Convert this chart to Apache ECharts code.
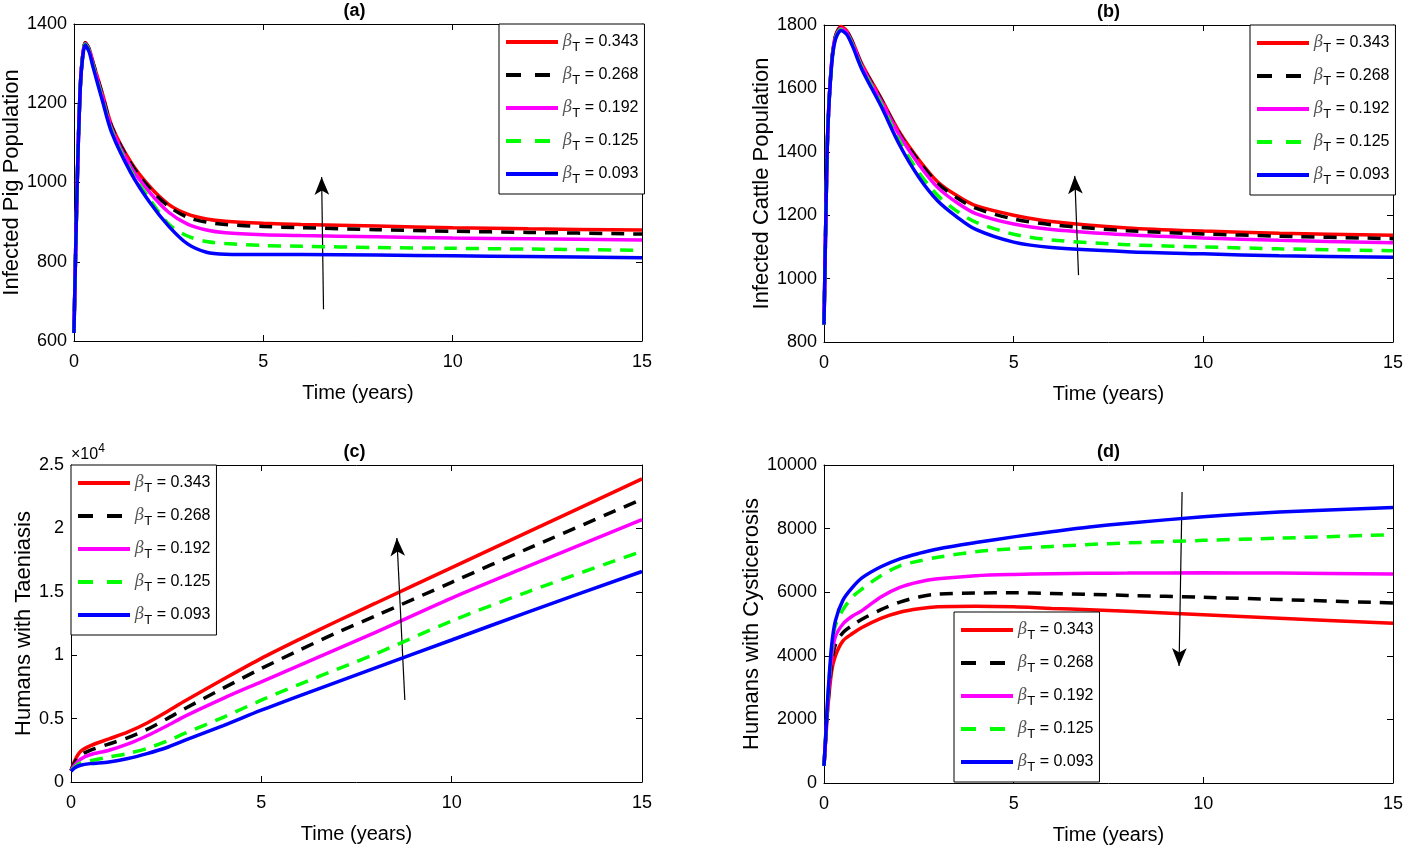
<!DOCTYPE html>
<html>
<head>
<meta charset="utf-8">
<script src="https://cdn.jsdelivr.net/npm/echarts@6/dist/echarts.min.js"></script>
<style>
html,body{margin:0;padding:0;background:#fff;}
#chart{width:1406px;height:847px;}
</style>
</head>
<body>
<div id="chart"></div>
<script>
// ---------------- DATA ----------------
const betaValues = ['0.343', '0.268', '0.192', '0.125', '0.093'];
const seriesColors = ['#ff0000', '#000000', '#ff00ff', '#00ff00', '#0000ff'];
const seriesDashed = [false, true, false, true, false];

// (a) Infected Pig Population
const timesA = [0, 0.05, 0.1, 0.15, 0.2, 0.3, 0.4, 0.5, 0.75, 1, 1.5, 2, 2.5, 3, 3.5, 4, 5, 6, 8, 10, 12, 15];
const pig_0343 = [620, 850, 1050, 1200, 1290, 1353, 1338, 1305, 1225, 1143, 1052, 990, 945, 920, 908, 902, 897, 894, 890, 886, 883, 880];
const pig_0268 = [620, 850, 1050, 1200, 1290, 1352, 1337, 1303, 1222, 1140, 1048, 985, 940, 912, 900, 894, 889, 886, 881, 877, 874, 870];
const pig_0192 = [620, 850, 1050, 1200, 1289, 1351, 1335, 1300, 1217, 1135, 1040, 975, 925, 895, 880, 873, 868, 866, 863, 860, 858, 855];
const pig_0125 = [620, 850, 1050, 1200, 1288, 1349, 1333, 1297, 1212, 1130, 1030, 958, 895, 865, 851, 846, 841, 839, 836, 834, 832, 829];
const pig_0093 = [620, 850, 1050, 1200, 1287, 1347, 1330, 1293, 1207, 1125, 1025, 950, 890, 845, 824, 819, 818, 818, 817, 815, 813, 810];

// (b) Infected Cattle Population
const timesB = [0, 0.05, 0.1, 0.2, 0.3, 0.45, 0.6, 0.75, 1, 1.5, 2, 2.5, 3, 3.5, 4, 5, 6, 8, 10, 12, 15];
const cattle_0343 = [855, 1200, 1470, 1680, 1765, 1795, 1782, 1748, 1677, 1570, 1460, 1375, 1305, 1262, 1230, 1200, 1180, 1160, 1150, 1143, 1137];
const cattle_0268 = [855, 1200, 1470, 1679, 1763, 1792, 1779, 1745, 1673, 1567, 1455, 1370, 1300, 1255, 1222, 1188, 1170, 1151, 1141, 1134, 1126];
const cattle_0192 = [855, 1200, 1469, 1677, 1760, 1789, 1776, 1742, 1670, 1562, 1450, 1360, 1287, 1240, 1205, 1172, 1155, 1138, 1128, 1121, 1113];
const cattle_0125 = [855, 1200, 1468, 1675, 1757, 1786, 1773, 1738, 1665, 1553, 1432, 1335, 1262, 1213, 1178, 1140, 1122, 1107, 1100, 1094, 1088];
const cattle_0093 = [855, 1200, 1467, 1673, 1754, 1783, 1770, 1734, 1660, 1545, 1420, 1320, 1245, 1195, 1155, 1115, 1098, 1085, 1078, 1072, 1067];

// (c) Humans with Taeniasis (x 10^4)
const timesC = [0, 0.1, 0.25, 0.5, 1, 1.5, 2, 2.5, 3, 4, 5, 6, 7, 8, 10, 12, 15];
const taen_0343 = [0.09, 0.17, 0.24, 0.285, 0.34, 0.395, 0.465, 0.55, 0.64, 0.81, 0.975, 1.125, 1.27, 1.41, 1.69, 1.97, 2.39];
const taen_0268 = [0.09, 0.155, 0.21, 0.25, 0.30, 0.35, 0.415, 0.495, 0.58, 0.74, 0.895, 1.04, 1.18, 1.31, 1.575, 1.84, 2.23];
const taen_0192 = [0.09, 0.135, 0.18, 0.215, 0.25, 0.30, 0.365, 0.44, 0.52, 0.66, 0.79, 0.92, 1.05, 1.18, 1.45, 1.70, 2.07];
const taen_0125 = [0.09, 0.12, 0.15, 0.168, 0.197, 0.225, 0.265, 0.32, 0.385, 0.51, 0.645, 0.77, 0.89, 1.01, 1.27, 1.50, 1.82];
const taen_0093 = [0.085, 0.112, 0.132, 0.145, 0.158, 0.185, 0.224, 0.27, 0.33, 0.445, 0.566, 0.68, 0.79, 0.90, 1.12, 1.34, 1.66];

// (d) Humans with Cysticerosis
const timesD = [0, 0.05, 0.1, 0.2, 0.3, 0.5, 0.75, 1, 1.5, 2, 2.5, 3, 4, 5, 6, 7, 8, 10, 12, 15];
const cyst_0343 = [540, 1450, 2350, 3500, 4000, 4470, 4700, 4890, 5180, 5370, 5480, 5540, 5560, 5540, 5490, 5450, 5400, 5290, 5180, 5020];
const cyst_0268 = [540, 1500, 2450, 3750, 4350, 4730, 4960, 5150, 5450, 5690, 5850, 5940, 5975, 5980, 5960, 5930, 5900, 5840, 5770, 5660];
const cyst_0192 = [540, 1550, 2550, 3950, 4600, 5000, 5250, 5420, 5850, 6150, 6320, 6420, 6520, 6560, 6580, 6595, 6600, 6610, 6600, 6570];
const cyst_0125 = [540, 1600, 2650, 4200, 4950, 5450, 5850, 6100, 6520, 6830, 6980, 7100, 7270, 7370, 7440, 7500, 7550, 7630, 7700, 7810];
const cyst_0093 = [540, 1600, 2700, 4300, 5100, 5750, 6150, 6450, 6800, 7050, 7220, 7360, 7560, 7740, 7900, 8050, 8170, 8370, 8520, 8660];

// annotation arrows [tail, head] in data coordinates
const arrowA = [[6.59, 680], [6.54, 1014]];
const arrowB = [[6.71, 1011], [6.61, 1324]];
const arrowC = [[8.77, 0.647], [8.56, 1.924]];
const arrowD = [[9.44, 9151], [9.36, 3679]];

// ---------------- LAYOUT ----------------
const panels = [
  { title: '(a)', yName: 'Infected Pig Population', times: timesA, sets: [pig_0343, pig_0268, pig_0192, pig_0125, pig_0093],
    grid: { left: 71, top: 24, width: 571, height: 317 }, yMin: 600, yMax: 1400, yInt: 200, nameGap: 50,
    legend: { left: 499, top: 24 }, arrow: arrowA },
  { title: '(b)', yName: 'Infected Cattle Population', times: timesB, sets: [cattle_0343, cattle_0268, cattle_0192, cattle_0125, cattle_0093],
    grid: { left: 824, top: 25, width: 572, height: 317 }, yMin: 800, yMax: 1800, yInt: 200, nameGap: 51,
    legend: { left: 1250, top: 25 }, arrow: arrowB },
  { title: '(c)', yName: 'Humans with Taeniasis', times: timesC, sets: [taen_0343, taen_0268, taen_0192, taen_0125, taen_0093],
    grid: { left: 71, top: 465, width: 571, height: 317 }, yMin: 0, yMax: 2.5, yInt: 0.5, nameGap: 36,
    legend: { left: 71, top: 465 }, arrow: arrowC },
  { title: '(d)', yName: 'Humans with Cysticerosis', times: timesD, sets: [cyst_0343, cyst_0268, cyst_0192, cyst_0125, cyst_0093],
    grid: { left: 824, top: 465, width: 572, height: 318 }, yMin: 0, yMax: 10000, yInt: 2000, nameGap: 60,
    legend: { left: 954, top: 612 }, arrow: arrowD }
];

const seriesNames = betaValues.map(v => 'βT = ' + v);
const FONT = 'Liberation Sans, Arial, Helvetica, sans-serif';
const plain = v => String(v);

const grids = [], xAxes = [], yAxes = [], series = [], legends = [], graphics = [];

const legendData = seriesNames.map((n, k) => seriesDashed[k]
  ? { name: n, lineStyle: { type: [15, 14], width: 4 } }
  : { name: n });

panels.forEach((p, i) => {
  grids.push(Object.assign({ containLabel: false }, p.grid));
  const baseX = { type: 'value', gridIndex: i, min: 0, max: 15, interval: 5,
    axisLine: { show: true, onZero: false, lineStyle: { color: '#000', width: 1 } },
    axisTick: { show: true, inside: true, length: 6, lineStyle: { color: '#000' } },
    splitLine: { show: false } };
  xAxes.push(Object.assign({}, baseX, { position: 'bottom',
    name: 'Time (years)', nameLocation: 'middle', nameGap: 42,
    nameTextStyle: { fontFamily: FONT, fontSize: 20, color: '#000' },
    axisLabel: { show: true, margin: 12, fontFamily: FONT, fontSize: 18, color: '#000', formatter: plain } }));
  xAxes.push(Object.assign({}, baseX, { position: 'top', axisLabel: { show: false } }));
  const baseY = { type: 'value', gridIndex: i, min: p.yMin, max: p.yMax, interval: p.yInt,
    axisLine: { show: true, onZero: false, lineStyle: { color: '#000', width: 1 } },
    axisTick: { show: true, inside: true, length: 6, lineStyle: { color: '#000' } },
    splitLine: { show: false } };
  yAxes.push(Object.assign({}, baseY, { position: 'left',
    name: p.yName, nameLocation: 'middle', nameGap: p.nameGap, nameRotate: 90,
    nameTextStyle: { fontFamily: FONT, fontSize: 22, color: '#000', verticalAlign: 'bottom' },
    axisLabel: { show: true, margin: 7, fontFamily: FONT, fontSize: 18, color: '#000', formatter: plain } }));
  yAxes.push(Object.assign({}, baseY, { position: 'right', axisLabel: { show: false } }));

  p.sets.forEach((vals, k) => {
    const s = {
      name: seriesNames[k], type: 'line', xAxisIndex: 2 * i, yAxisIndex: 2 * i,
      data: p.times.map((t, j) => [t, vals[j]]),
      showSymbol: false, symbol: 'none', smooth: 0.3,
      lineStyle: { color: seriesColors[k], width: 3.5, type: seriesDashed[k] ? [13, 9] : 'solid' },
      itemStyle: { color: seriesColors[k] },
      z: 2 + k
    };
    if (k === p.sets.length - 1) {
      s.markLine = {
        silent: true, symbol: ['none', 'arrow'], symbolSize: [11, 18], animation: false,
        label: { show: false },
        lineStyle: { color: '#000', width: 1.2, type: 'solid' },
        data: [[{ coord: p.arrow[0] }, { coord: p.arrow[1] }]]
      };
    }
    series.push(s);
  });

  legends.push({
    data: legendData, orient: 'vertical', left: p.legend.left, top: p.legend.top,
    backgroundColor: '#fff', borderColor: '#000', borderWidth: 1, borderRadius: 0,
    padding: [10, 6, 8, 5], itemWidth: 52, itemHeight: 14, itemGap: 13, itemTextGap: 5,
    selectedMode: false,
    itemStyle: { opacity: 0, borderWidth: 0 },
    lineStyle: { width: 4 },
    formatter: function (name) { return '{b|β}{s|T}{t| = ' + name.split('= ')[1] + '}'; },
    textStyle: {
      color: '#000', fontFamily: FONT, fontSize: 16,
      rich: {
        b: { fontFamily: 'DejaVu Serif, Liberation Serif, serif', fontStyle: 'italic', fontSize: 16, lineHeight: 24, color: '#555' },
        s: { fontFamily: FONT, fontSize: 13, lineHeight: 12, verticalAlign: 'bottom', color: '#000' },
        t: { fontFamily: FONT, fontSize: 16, lineHeight: 24, color: '#000' }
      }
    }
  });

  graphics.push({
    type: 'text', left: p.grid.left + p.grid.width / 2 - 13, top: p.grid.top - 22,
    style: { text: p.title, fontFamily: FONT, fontSize: 18, fontWeight: 'bold', fill: '#000' }
  });
});

graphics.push({
  type: 'text', left: 71, top: 443,
  style: {
    text: '{a|×10}{p|4}', fill: '#000',
    rich: {
      a: { fontFamily: FONT, fontSize: 16, lineHeight: 20, verticalAlign: 'bottom' },
      p: { fontFamily: FONT, fontSize: 12, lineHeight: 20, verticalAlign: 'top' }
    }
  }
});

const chart = echarts.init(document.getElementById('chart'), null, { renderer: 'canvas' });
chart.setOption({
  animation: false,
  backgroundColor: '#fff',
  grid: grids, xAxis: xAxes, yAxis: yAxes, series: series, legend: legends, graphic: graphics
});
</script>
</body>
</html>
